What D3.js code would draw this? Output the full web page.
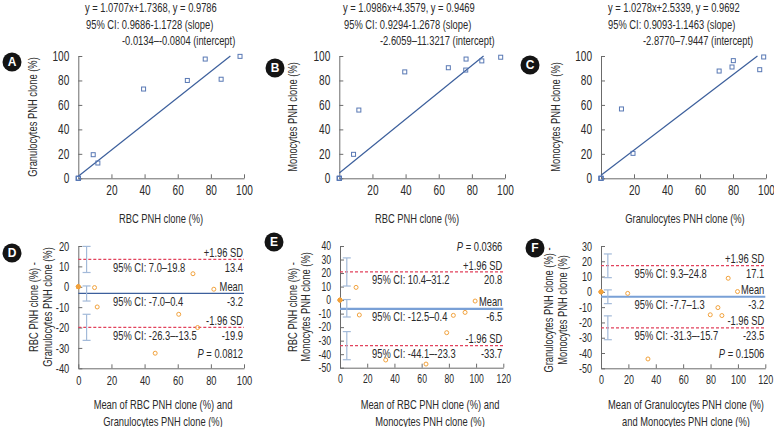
<!DOCTYPE html>
<html><head><meta charset="utf-8">
<script src="https://cdn.jsdelivr.net/npm/d3@7"></script>
<style>
body{margin:0;background:#fff}
svg{display:block}
text{font-family:"Liberation Sans",Arial,sans-serif;fill:#2a2a2a}
</style>
</head><body>
<svg id="chart" width="774" height="427"></svg>
<script>
// ---------- DATA ----------
// Panel A: RBC vs Granulocytes PNH clone (%)
const rbcA  = [0, 0, 0, 9.0, 11.8, 39.4, 65.8, 76.6, 86.2, 97.6];
const granA = [0, 0, 0, 19.3, 12.5, 73.0, 80.0, 97.5, 81.0, 99.7];
const fitA  = [1.0707, 1.7368];
const annA  = ["y = 1.0707x+1.7368, y = 0.9786", "95% CI: 0.9686-1.1728 (slope)", "-0.0134–-0.0804 (intercept)"];
// Panel B: RBC vs Monocytes PNH clone (%)
const rbcB  = [0, 0, 0, 8.6, 11.8, 39.5, 65.8, 76.5, 76.3, 86.0, 97.4];
const monoB = [0, 0, 0, 19.6, 55.8, 87.0, 90.4, 97.5, 88.5, 96.0, 99.0];
const fitB  = [1.0986, 4.3579];
const annB  = ["y = 1.0986x+4.3579, y = 0.9469", "95% CI: 0.9294-1.2678 (slope)", "-2.6059–11.3217 (intercept)"];
// Panel C: Granulocytes vs Monocytes PNH clone (%)
const granC = [0, 0, 0, 12.4, 19.4, 71.6, 79.4, 80.2, 96.2, 98.6];
const monoC = [0, 0, 0, 56.7, 20.4, 87.7, 91.0, 96.2, 88.8, 99.2];
const fitC  = [1.0278, 2.5339];
const annC  = ["y = 1.0278x+2.5339, y = 0.9692", "95% CI: 0.9093-1.1463 (slope)", "-2.8770–7.9447 (intercept)"];
const scatterTicksY = [0, 20, 40, 60, 80, 100];
const scatterTicksX = [20, 40, 60, 80, 100];

// Panel D: Bland-Altman RBC - Granulocytes
const avgD  = [0, 0, 0, 9.8, 11.4, 46.4, 60.6, 69.2, 72.0, 81.8];
const diffD = [0, 0, 0, -0.4, -9.9, -32.6, -13.5, 6.4, -20.0, -1.2];
const limD  = [13.4, -3.2, -19.9];          // +1.96 SD, mean, -1.96 SD
const ciD   = [[7.0, 19.8], [-7.0, 0.4], [-26.3, -13.5]];
const ciTxtD = ["95% CI: 7.0–19.8", "95% CI: -7.0–0.4", "95% CI: -26.3–-13.5"];
const pD = "0.0812";
const ticksYD = [20, 10, 0, -10, -20, -30, -40];
const ticksXD = [0, 20, 40, 60, 80, 100];
// Panel E: Bland-Altman RBC - Monocytes
const avgE  = [0, 0, 0, 11.8, 14.2, 33.6, 63.2, 78.4, 83.3, 91.9, 99.3];
const diffE = [0, 0, 0, 9.4, -11.0, -44.3, -47.3, -24.1, -11.3, -9.1, -0.7];
const limE  = [20.8, -6.5, -33.7];
const ciE   = [[10.4, 31.2], [-12.5, 0.4], [-44.1, -23.3]];
const ciTxtE = ["95% CI: 10.4–31.2", "95% CI: -12.5–0.4", "95% CI: -44.1–-23.3"];
const pE = "0.0366";
const ticksYE = [40, 30, 20, 10, 0, -10, -20, -30, -40, -50];
const ticksXE = [0, 20, 40, 60, 80, 100, 120];
// Panel F: Bland-Altman Granulocytes - Monocytes
const avgF  = [0, 0, 0, 19.5, 34.3, 79.8, 85.4, 88.3, 92.9, 99.7];
const diffF = [0, 0, 0, -1.0, -43.9, -15.0, -10.3, -15.5, 8.9, 0.2];
const limF  = [17.1, -3.2, -23.5];
const ciF   = [[9.3, 24.8], [-7.7, 1.3], [-31.3, -15.7]];
const ciTxtF = ["95% CI: 9.3–24.8", "95% CI: -7.7–1.3", "95% CI: -31.3–-15.7"];
const pF = "0.1506";
const ticksYF = [30, 20, 10, 0, -10, -20, -30, -40, -50];
const ticksXF = [0, 20, 40, 60, 80, 100, 120];
const limLabels = ["+1.96 SD", "Mean", "-1.96 SD"];

// ---------- LAYOUT ----------
const svg = d3.select("#chart");
const K = 0.72;   // horizontal squeeze for condensed look
const C = {axis:"#6b6b6b", fit:"#3c5f9c", sq:"#5878b4", pt:"#f2a23c",
           red:"#e2425c", ci:"#a3bad9", meanThin:"#3c5f9c", meanThick:"#79a0d6"};

function badge(x, y, letter){
  svg.append("circle").attr("cx",x).attr("cy",y).attr("r",9.5).attr("fill","#141414");
  svg.append("text").attr("class","nocomp").attr("x",x).attr("y",y).attr("dy","0.36em")
    .attr("text-anchor","middle").attr("font-size",12).attr("font-weight","bold")
    .style("fill","#fff").text(letter);
}

function axes(g, x, y, xt, yt, fs){
  const ax = g.append("g").attr("transform",`translate(0,${y.range()[0]})`)
    .call(d3.axisBottom(x).tickValues(xt).tickSizeInner(-4).tickSizeOuter(0).tickPadding(7)
      .tickFormat(d=>String(d)));
  const ay = g.append("g").attr("transform",`translate(${x.range()[0]},0)`)
    .call(d3.axisLeft(y).tickValues(yt).tickSizeInner(-4).tickSizeOuter(0).tickPadding(9)
      .tickFormat(d=>String(d)));
  [ax, ay].forEach(a=>{
    a.selectAll("path,line").attr("stroke",C.axis).attr("stroke-width",1);
    a.selectAll("text").attr("font-size",fs).attr("font-family",null).style("fill","#2a2a2a");
  });
}

function scatter(cfg){
  const x = d3.scaleLinear().domain([0,100]).range([cfg.x0, cfg.x1]);
  const y = d3.scaleLinear().domain([0,100]).range([178.3, 56]);
  const g = svg.append("g");
  axes(g, x, y, scatterTicksX, scatterTicksY, 14);
  const xEnd = Math.min(100, (100 - cfg.fit[1]) / cfg.fit[0]);
  g.append("line").attr("x1",x(0)).attr("y1",y(cfg.fit[1]))
    .attr("x2",x(xEnd)).attr("y2",y(cfg.fit[0]*xEnd+cfg.fit[1]))
    .attr("stroke",C.fit).attr("stroke-width",1.2);
  g.selectAll("rect.pt").data(cfg.xs).enter().append("rect")
    .attr("x",(d)=>x(d)-2).attr("y",(d,i)=>y(cfg.ys[i])-2)
    .attr("width",4).attr("height",4).attr("fill","none")
    .attr("stroke",C.sq).attr("stroke-width",1);
  cfg.ann.forEach((t,i)=>{
    svg.append("text").attr("x",cfg.annX[i]).attr("y",[12.5,29,45.5][i])
      .attr("font-size",13).text(t);
  });
  svg.append("text").attr("transform",`translate(${cfg.ylab},117) rotate(-90)`)
    .attr("text-anchor","middle").attr("dy","0.35em").attr("font-size",13).text(cfg.ytitle);
  svg.append("text").attr("x",cfg.xlab).attr("y",218).attr("dy","0.35em")
    .attr("text-anchor","middle").attr("font-size",13).text(cfg.xtitle);
  badge(cfg.badge[0], cfg.badge[1], cfg.letter);
}

function bland(cfg){
  const x = d3.scaleLinear().domain([0, cfg.xt[cfg.xt.length-1]]).range([cfg.x0, cfg.x1]);
  const y = d3.scaleLinear().domain([cfg.yt[cfg.yt.length-1], cfg.yt[0]]).range([cfg.yb, 246]);
  const g = svg.append("g");
  axes(g, x, y, cfg.xt, cfg.yt, cfg.tfs);
  const xr = x.range();
  cfg.lim.forEach((v,i)=>{
    const l = g.append("line").attr("x1",xr[0]).attr("x2",xr[1]).attr("y1",y(v)).attr("y2",y(v));
    if(i===1) l.attr("stroke", cfg.thick ? C.meanThick : C.meanThin).attr("stroke-width", cfg.thick ? 2.2 : 1.3);
    else l.attr("stroke",C.red).attr("stroke-width",1.2).attr("stroke-dasharray","3,2");
  });
  cfg.ci.forEach(c=>{
    const cx = x(5);
    g.append("line").attr("x1",cx).attr("x2",cx).attr("y1",y(c[0])).attr("y2",y(c[1]))
      .attr("stroke",C.ci).attr("stroke-width",1.2);
    c.forEach(v=>g.append("line").attr("x1",cx-4).attr("x2",cx+4).attr("y1",y(v)).attr("y2",y(v))
      .attr("stroke",C.ci).attr("stroke-width",1.2));
  });
  g.selectAll("circle.pt").data(cfg.xs).enter().append("circle")
    .attr("cx",d=>x(d)).attr("cy",(d,i)=>y(cfg.ys[i])).attr("r",2)
    .attr("fill",(d,i)=> (d===0 && cfg.ys[i]===0) ? C.pt : "none")
    .attr("stroke",C.pt).attr("stroke-width",1);
  cfg.lim.forEach((v,i)=>{
    g.append("text").attr("x",xr[1]-1).attr("y",y(v)-7).attr("dy","0.35em")
      .attr("text-anchor","end").attr("font-size",13).text(limLabels[i]);
    g.append("text").attr("x",xr[1]-1).attr("y",y(v)+8).attr("dy","0.35em")
      .attr("text-anchor","end").attr("font-size",13).text(v.toFixed(1));
    g.append("text").attr("x",cfg.ciX).attr("y",y(v)+8).attr("dy","0.35em")
      .attr("font-size",13).text(cfg.ciTxt[i]);
  });
  const pt = g.append("text").attr("x",xr[1]-1).attr("y",cfg.pY).attr("dy","0.35em")
    .attr("text-anchor","end").attr("font-size",13);
  pt.append("tspan").attr("font-style","italic").text("P");
  pt.append("tspan").text(" = " + cfg.p);
  cfg.ytitle.forEach((t,i)=>{
    svg.append("text").attr("transform",`translate(${cfg.ylab[i]},${cfg.ylabY}) rotate(-90)`)
      .attr("text-anchor","middle").attr("dy","0.35em").attr("font-size",13).text(t);
  });
  cfg.xtitle.forEach((t,i)=>{
    svg.append("text").attr("x",cfg.xlab).attr("y",[404,421][i]).attr("dy","0.35em")
      .attr("text-anchor","middle").attr("font-size",13).text(t);
  });
  badge(cfg.badge[0], cfg.badge[1], cfg.letter);
}

scatter({x0:78.3, x1:244, xs:rbcA, ys:granA, fit:fitA, ann:annA, annX:[85,86,122],
  ylab:32, xlab:161, ytitle:"Granulocytes PNH clone (%)", xtitle:"RBC PNH clone (%)", badge:[12,62], letter:"A"});
scatter({x0:339.3, x1:505, xs:rbcB, ys:monoB, fit:fitB, ann:annB, annX:[343,344,380],
  ylab:292, xlab:417, ytitle:"Monocytes PNH clone (%)", xtitle:"RBC PNH clone (%)", badge:[275,68], letter:"B"});
scatter({x0:601, x1:766, xs:granC, ys:monoC, fit:fitC, ann:annC, annX:[608,608,643],
  ylab:555, xlab:685, ytitle:"Monocytes PNH clone (%)", xtitle:"Granulocytes PNH clone (%)", badge:[530,65], letter:"C"});

bland({x0:78.3, x1:244, yb:368.3, xt:ticksXD, yt:ticksYD, tfs:13, xs:avgD, ys:diffD, lim:limD, ci:ciD, ciTxt:ciTxtD,
  ciX:113, p:pD, pY:353, thick:false, ylab:[33,47], ylabY:307,
  ytitle:["RBC PNH clone (%) -","Granulocytes PNH clone (%)"],
  xtitle:["Mean of RBC PNH clone (%) and","Granulocytes PNH clone (%)"], xlab:163, badge:[12,253], letter:"D"});
bland({x0:340, x1:503.3, yb:367.7, xt:ticksXE, yt:ticksYE, tfs:12, xs:avgE, ys:diffE, lim:limE, ci:ciE, ciTxt:ciTxtE,
  ciX:372, p:pE, pY:246, thick:true, ylab:[292,305], ylabY:307,
  ytitle:["RBC PNH clone (%) -","Monocytes PNH clone (%)"],
  xtitle:["Mean of RBC PNH clone (%) and","Monocytes PNH clone (%)"], xlab:430, badge:[274,242], letter:"E"});
bland({x0:601, x1:765.3, yb:368.3, xt:ticksXF, yt:ticksYF, tfs:12.5, xs:avgF, ys:diffF, lim:limF, ci:ciF, ciTxt:ciTxtF,
  ciX:634.5, p:pF, pY:353, thick:true, ylab:[548,562], ylabY:310,
  ytitle:["Granulocytes PNH clone (%) -","Monocytes PNH clone (%)"],
  xtitle:["Mean of Granulocytes PNH clone (%)","and Monocytes PNH clone (%)"], xlab:686, badge:[535,248], letter:"F"});

// condensed look: squeeze each text horizontally around its anchor point
svg.selectAll("text").filter(function(){return !this.classList.contains("nocomp");}).each(function(){
  const t = this.getAttribute("transform");
  if(t && t.indexOf("rotate")>=0){
    this.setAttribute("transform", t + ` scale(${K},1)`);
  } else {
    const x = +(this.getAttribute("x") || 0);
    this.setAttribute("transform", `translate(${x*(1-K)},0) scale(${K},1)`);
  }
});
</script>
</body></html>
